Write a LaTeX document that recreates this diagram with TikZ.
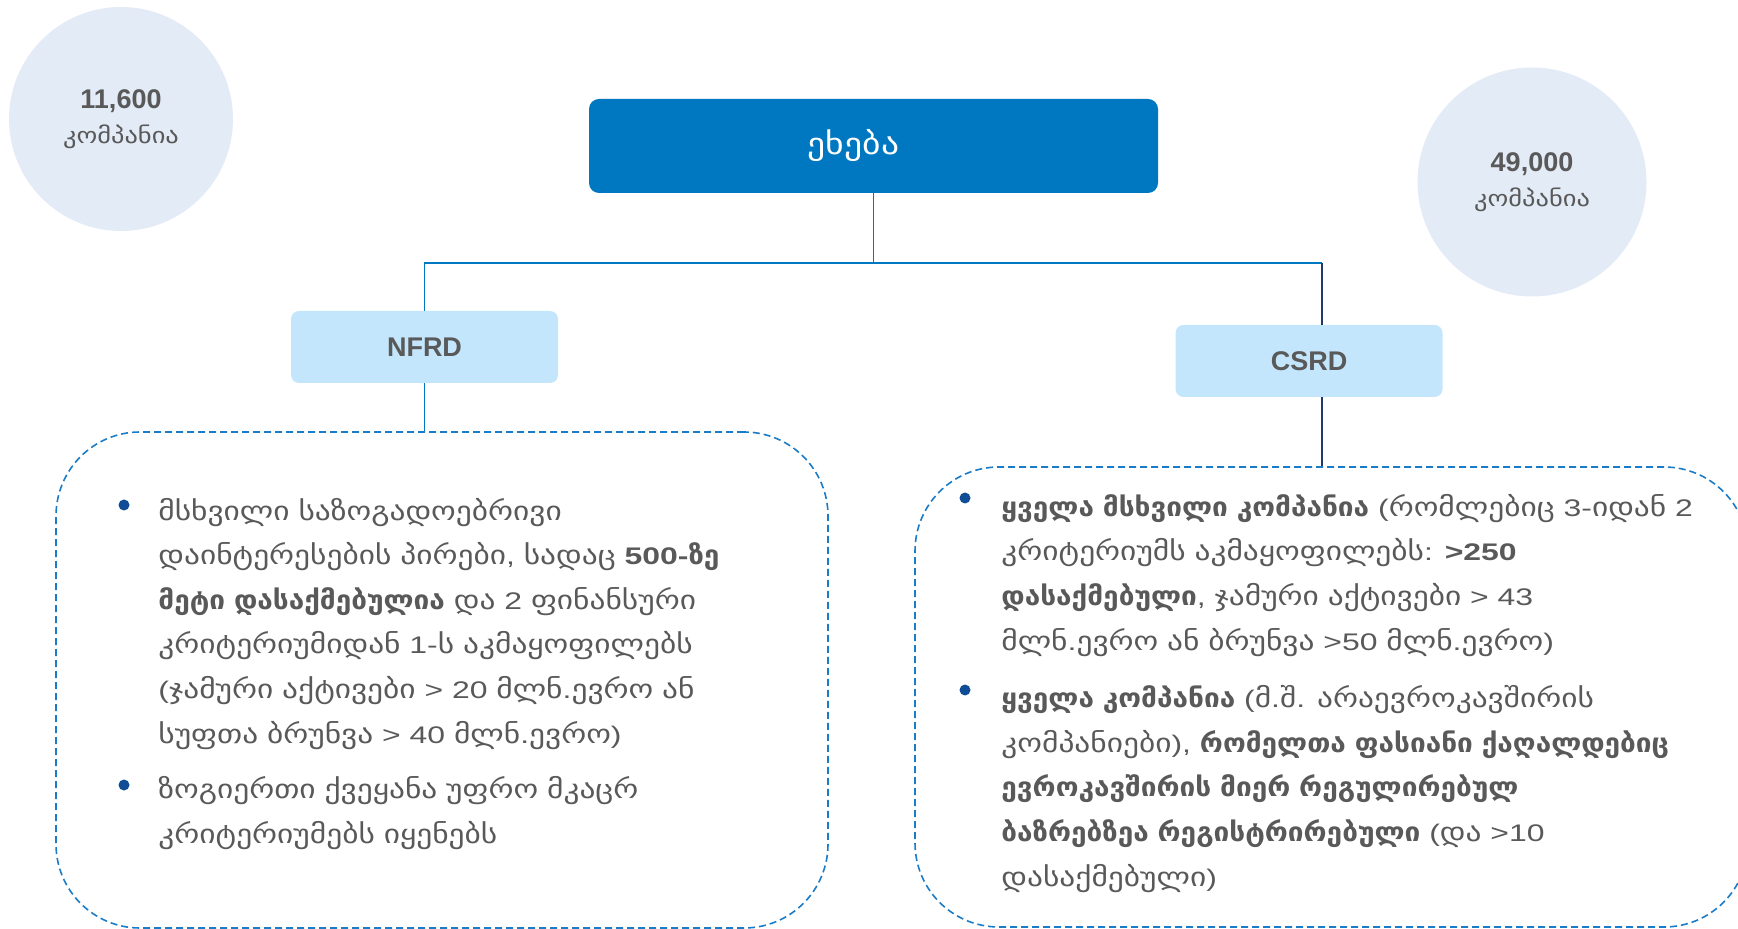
\documentclass[tikz,border=0pt]{standalone}
\usepackage{fontspec}
\setmainfont{Liberation Sans}
\newfontfamily\bodyfont[FakeStretch=1.33]{Liberation Sans}
\newfontfamily\geofont[Scale=1.1,UprightFeatures={FakeStretch=1.19},BoldFeatures={FakeStretch=1.06}]{DejaVu Sans}
\XeTeXinterchartokenstate=1
\newXeTeXintercharclass\geoclass
\count255="10A0
\loop\ifnum\count255<"1100
  \XeTeXcharclass\count255=\geoclass
  \advance\count255 by 1
\repeat
\XeTeXinterchartoks 0 \geoclass={\begingroup\geofont}
\XeTeXinterchartoks 4095 \geoclass={\begingroup\geofont}
\XeTeXinterchartoks \geoclass 0={\endgroup}
\XeTeXinterchartoks \geoclass 4095={\endgroup}
\definecolor{ribbon}{HTML}{0078C1}
\definecolor{pale}{HTML}{C4E6FD}
\definecolor{mist}{HTML}{E3EBF6}
\definecolor{ink}{HTML}{595959}
\definecolor{edge}{HTML}{1A7BC6}
\definecolor{dotblue}{HTML}{0F4E96}
\definecolor{navy}{HTML}{1F3A68}
\begin{document}
\begin{tikzpicture}[x=0.5pt,y=-0.5pt,
    circ/.style={circle,fill=mist,text=ink,align=center,inner sep=0pt,font=\fontsize{10.1}{17.5}\selectfont},
    head/.style={rectangle,rounded corners=5pt,fill=ribbon,text=white,minimum width=284.5pt,minimum height=47pt,font=\fontsize{13.6}{18}\selectfont},
    tag/.style={rectangle,rounded corners=4pt,fill=pale,text=ink,minimum width=133.5pt,minimum height=36pt,font=\fontsize{13.5}{16}\selectfont\bfseries},
    dashbox/.style={draw=edge,line width=0.8pt,dash pattern=on 3.5pt off 2pt,rounded corners=42pt},
    link/.style={draw=ribbon,line width=0.8pt},
    bullet/.style={circle,fill=dotblue,inner sep=0pt,minimum size=5.5pt},
    body/.style={text=ink,align=left,anchor=base west,inner sep=0pt,font=\bodyfont\fontsize{12}{22.3}\selectfont}]
    \useasboundingbox (0,0) rectangle (1738,929) ;
    \draw (121,119) node[circ,minimum size=112pt] (small) {{\fontsize{13.5}{16}\selectfont\bfseries 11,600}\\კომპანია} ;
    \draw (1532,182) node[circ,minimum size=114.5pt] (large) {{\fontsize{13.5}{16}\selectfont\bfseries 49,000}\\კომპანია} ;
    \draw (873.5,146) node[head] (top) {ეხება\kern20pt} ;
    \draw (424.5,347) node[tag] (nfrd) {NFRD} ;
    \draw (1309,361) node[tag] (csrd) {CSRD} ;
    \draw (442,680) node[dashbox,minimum width=386pt,minimum height=248pt] (nfrdbox) {} ;
    \draw (1331.5,697) node[dashbox,minimum width=416.5pt,minimum height=230pt] (csrdbox) {} ;
    \coordinate (bus) at (875,262) ;
    \coordinate (turn) at (1322,263) ;
    \draw[link] (top) -- (top |- bus) ;
    \draw[link] (nfrd) |- (turn) ;
    \draw[link,draw=navy] (turn) -- (turn |- csrd.north) ;
    \draw[link] (nfrd) -- (nfrd |- nfrdbox.north) ;
    \draw[link,draw=navy] (turn |- csrd.south) -- (turn |- csrdbox.north) ;
    \draw (124,505) node[bullet] (dotA) {} ;
    \draw (158,743) node[body] (itemA) {მსხვილი საზოგადოებრივი\\დაინტერესების პირები, სადაც {\bfseries 500-ზე}\\{\bfseries მეტი დასაქმებულია} და 2 ფინანსური\\კრიტერიუმიდან 1-ს აკმაყოფილებს\\(ჯამური აქტივები > 20 მლნ.ევრო ან\\სუფთა ბრუნვა > 40 მლნ.ევრო)} ;
    \draw (124,785) node[bullet] (dotB) {} ;
    \draw (158,843) node[body] (itemB) {ზოგიერთი ქვეყანა უფრო მკაცრ\\კრიტერიუმებს იყენებს} ;
    \draw (965,498) node[bullet] (dotC) {} ;
    \draw (1001,650) node[body] (itemC) {{\bfseries ყველა მსხვილი კომპანია} (რომლებიც 3-იდან 2\\კრიტერიუმს აკმაყოფილებს: {\bfseries >250}\\{\bfseries დასაქმებული}, ჯამური აქტივები > 43\\მლნ.ევრო ან ბრუნვა >50 მლნ.ევრო)} ;
    \draw (965,690) node[bullet] (dotD) {} ;
    \draw (1001,886) node[body] (itemD) {{\bfseries ყველა კომპანია} (მ.შ. არაევროკავშირის\\კომპანიები), {\bfseries რომელთა ფასიანი ქაღალდებიც}\\{\bfseries ევროკავშირის მიერ რეგულირებულ}\\{\bfseries ბაზრებზეა რეგისტრირებული} (და >10\\დასაქმებული)} ;
\end{tikzpicture}
\end{document}
